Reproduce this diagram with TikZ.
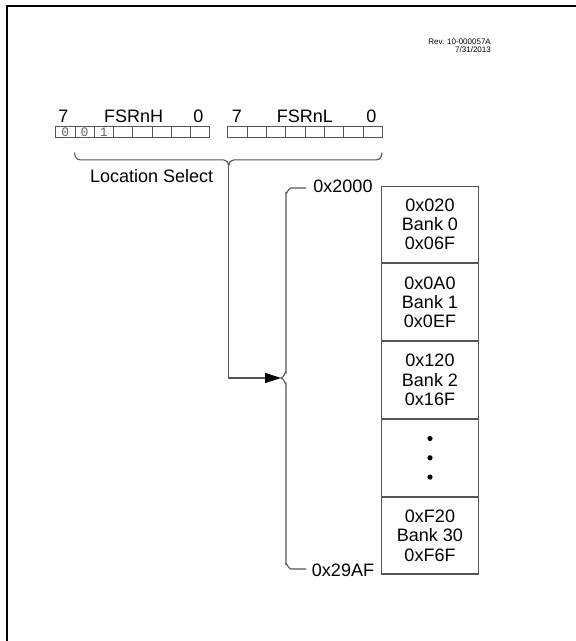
\documentclass[tikz,border=0pt]{standalone}
\usepackage{fontspec}
\setmainfont{Liberation Sans}
\newfontfamily\monofont{Liberation Mono}
\usetikzlibrary{arrows.meta}
\definecolor{edgegray}{HTML}{555555}
\definecolor{bitgray}{HTML}{666666}
\tikzset{
  lbl/.style={inner sep=0pt, font=\fontsize{18}{20}\selectfont},
  bitbox/.style={draw=edgegray, line width=0.9pt, minimum width=19.25pt, minimum height=11pt, inner sep=0pt, anchor=north west, font=\monofont\fontsize{13}{13}\selectfont, text=bitgray},
  bank/.style={draw=edgegray, line width=1.1pt, minimum width=96.6pt, minimum height=76.7pt, inner sep=0pt, anchor=north, align=center, font=\fontsize{18}{19.3}\selectfont},
  wire/.style={draw=edgegray, line width=1.1pt},
  frame/.style={line width=2pt, line cap=rect}
}
\begin{document}
\begin{tikzpicture}[x=1pt,y=-1pt]
\useasboundingbox (0,0) rectangle (576,641);
\draw[frame] (6.5,645) -- (6.5,5.5) -- (580,5.5);
% revision
\node[inner sep=0pt, anchor=north east, align=right, font=\fontsize{8}{8.2}\selectfont] (rev) at (491,39) {Rev. 10-000057A\\7/31/2013};
% FSRnH
\foreach \i/\t in {0/0,1/0,2/1,3/,4/,5/,6/,7/} {
  \node[bitbox] (h\i) at ({55.3+19.25*\i},126) {\raisebox{-0.8pt}{\t}};
}
\foreach \i in {0,...,7} {
  \node[bitbox] (l\i) at ({227.3+19.35*\i},126) {};
}
\node[lbl, anchor=base] (h7lbl) at (63.5,122.8) {7};
\node[lbl, anchor=base] (hname) at (133.7,122.8) {FSRnH};
\node[lbl, anchor=base] (h0lbl) at (198.3,122.8) {0};
\node[lbl, anchor=base] (l7lbl) at (237,122.8) {7};
\node[lbl, anchor=base] (lname) at (305,122.8) {FSRnL};
\node[lbl, anchor=base] (l0lbl) at (371.5,122.8) {0};
% brace under registers
\coordinate (bl) at (74.5,152.5);
\coordinate (br) at (382,152.5);
\coordinate (btip) at (228.7,165.5);
\draw[wire] (bl) to[out=-90,in=180] (80,159.8) -- (223.5,159.8) to[out=0,in=90] (btip)
  to[out=90,in=180] (234,159.8) -- (376.5,159.8) to[out=0,in=-90] (br);
\node[lbl] (locsel) at (151.7,176.5) {Location Select};
% banks
\node[bank] (b0) at (430,185.5) {0x020\\Bank 0\\0x06F};
\node[bank] (b1) at (b0.south) {0x0A0\\Bank 1\\0x0EF};
\node[bank] (b2) at (b1.south) {0x120\\Bank 2\\0x16F};
\node[bank] (bd) at (b2.south) {};
\node[bank] (b30) at (bd.south) {0xF20\\Bank 30\\0xF6F};
\foreach \yy in {-19.3,0,19.3} \fill (bd.center) ++(0,\yy) circle (2.6pt);
% big brace
\coordinate (ctop) at (306,188);
\coordinate (cbot) at (306,569);
\coordinate (ctip) at (281,378);
\draw[wire] (ctop) -- (291,188) to[out=180,in=-90] (286,193) -- (286,372.5) to[out=90,in=0] (ctip)
  to[out=0,in=-90] (286,383.5) -- (286,564) to[out=90,in=180] (291,569) -- (cbot);
\node[lbl] (a2000) at (343,186) {0x2000};
\node[lbl] (a29af) at (343,570) {0x29AF};
% arrow
\draw[wire, -{Triangle[length=16pt,width=10pt,fill=black,color=black]}] (btip) |- (ctip);
\end{tikzpicture}
\end{document}
